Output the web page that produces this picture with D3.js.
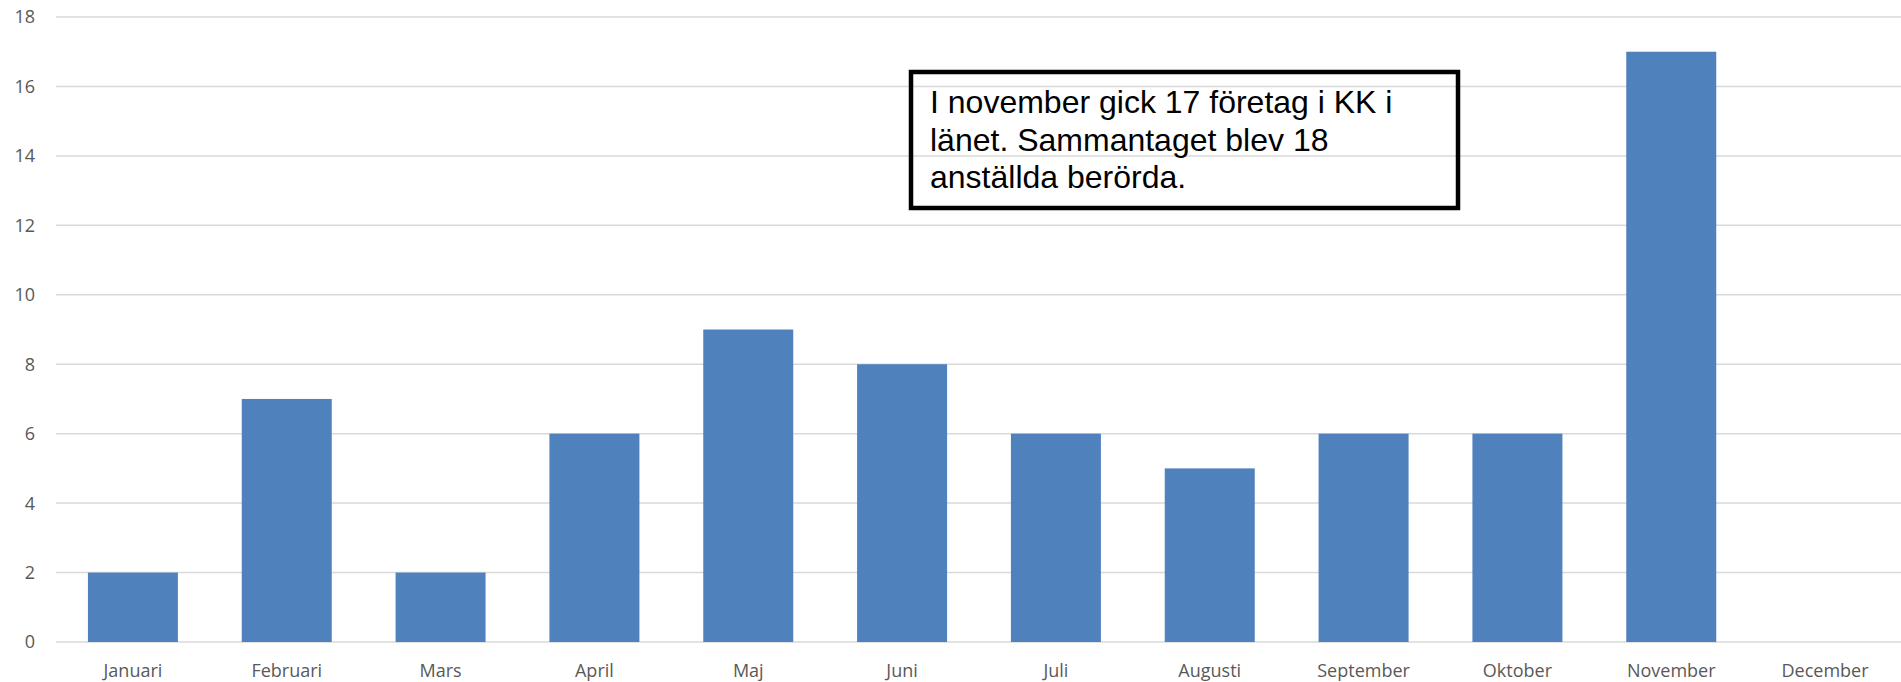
<!DOCTYPE html>
<html>
<head>
<meta charset="utf-8">
<script src="https://cdn.jsdelivr.net/npm/d3@7"></script>
<style>
  body { margin: 0; background: #fff; }
</style>
</head>
<body>
<div class="chart"></div>
<script>
const months = ['Januari', 'Februari', 'Mars', 'April', 'Maj', 'Juni',
  'Juli', 'Augusti', 'September', 'Oktober', 'November', 'December'];
const companies = [2, 7, 2, 6, 9, 8, 6, 5, 6, 6, 17, null];
const yTicks = [0, 2, 4, 6, 8, 10, 12, 14, 16, 18];
const noteLines = [
  'I november gick 17 företag i KK i',
  'länet. Sammantaget blev 18',
  'anställda berörda.'
];

const width = 1901;
const height = 682;
const margin = {top: 17, right: 0, bottom: 40, left: 56};

const svg = d3.select('.chart')
  .append('svg')
    .attr('width', width)
    .attr('height', height);

const x = d3.scaleBand()
  .domain(months)
  .range([margin.left, width + 1])
  .paddingInner(0.415)
  .paddingOuter(0.2075);

const y = d3.scaleLinear()
  .domain([0, 18])
  .range([height - margin.bottom - 0, margin.top]);

// gridlines
svg.append('g')
  .selectAll('line')
  .data(yTicks)
  .enter()
  .append('line')
    .attr('x1', margin.left)
    .attr('x2', width)
    .attr('y1', d => y(d))
    .attr('y2', d => y(d))
    .attr('stroke', '#d9d9d9')
    .attr('stroke-width', 1.5);

// y labels
svg.append('g')
  .selectAll('text')
  .data(yTicks)
  .enter()
  .append('text')
    .attr('x', 35)
    .attr('y', d => y(d))
    .attr('dy', '0.36em')
    .attr('text-anchor', 'end')
    .attr('font-family', 'Open Sans, sans-serif')
    .attr('font-size', '18px')
    .attr('fill', '#595959')
    .text(d => d);

const data = months.map((m, i) => ({month: m, value: companies[i]}));

svg.append('g')
  .selectAll('rect')
  .data(data.filter(d => d.value != null))
  .enter()
  .append('rect')
    .attr('x', d => x(d.month))
    .attr('y', d => y(d.value))
    .attr('width', x.bandwidth())
    .attr('height', d => y(0) - y(d.value))
    .attr('fill', '#4f81bd');

// x labels
svg.append('g')
  .selectAll('text')
  .data(months)
  .enter()
  .append('text')
    .attr('x', d => x(d) + x.bandwidth() / 2)
    .attr('y', 677)
    .attr('text-anchor', 'middle')
    .attr('font-family', 'Open Sans, sans-serif')
    .attr('font-size', '18px')
    .attr('fill', '#595959')
    .text(d => d);

// annotation box
const note = svg.append('g');
note.append('rect')
  .attr('x', 911)
  .attr('y', 72)
  .attr('width', 547)
  .attr('height', 136)
  .attr('fill', 'none')
  .attr('stroke', '#000')
  .attr('stroke-width', 4.5);

note.selectAll('text')
  .data(noteLines)
  .enter()
  .append('text')
    .attr('x', 930)
    .attr('y', (d, i) => 113 + i * 37.6)
    .attr('font-family', 'Liberation Sans, Arial, sans-serif')
    .attr('font-size', '32px')
    .attr('fill', '#000')
    .text(d => d);
</script>
</body>
</html>
